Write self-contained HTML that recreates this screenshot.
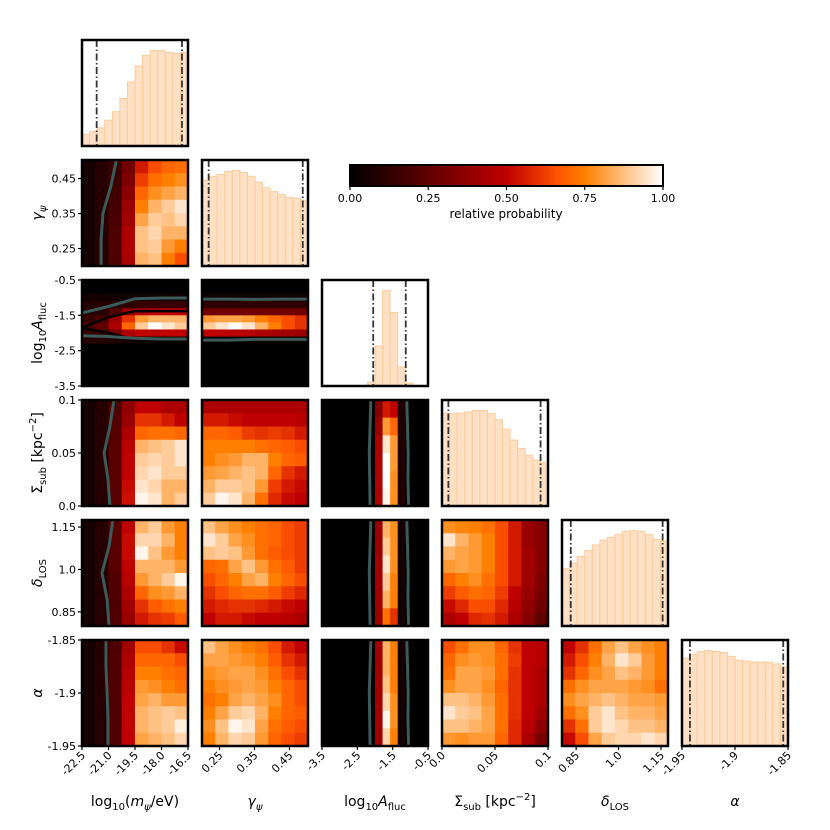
<!DOCTYPE html>
<html><head><meta charset="utf-8"><style>
html,body{margin:0;padding:0;background:#fff;}
svg{display:block;font-family:"DejaVu Sans","Liberation Sans",sans-serif;}
</style></head><body>
<svg id="fig" width="830" height="830" viewBox="0 0 830 830" xmlns="http://www.w3.org/2000/svg">
<defs>
<linearGradient id="cmap" x1="0" x2="1" y1="0" y2="0">
<stop offset="0" stop-color="#000"/><stop offset="0.3333" stop-color="#800000"/><stop offset="0.5" stop-color="#bf0000"/><stop offset="0.6667" stop-color="#ff5500"/><stop offset="0.75" stop-color="#ff8000"/><stop offset="1" stop-color="#fff"/>
</linearGradient>
</defs>
<g id="layer"></g>
<g>
<rect x="350" y="165" width="313" height="21" fill="url(#cmap)" stroke="#000" stroke-width="2"/>
</g>
</svg>
<script>
// ---- data ----
const paramLo = [-22.5, 0.2, -3.5, 0, 0.8, -1.95];
const paramHi = [-16.5, 0.503, -0.5, 0.1, 1.175, -1.85];
const yTickVals = [[], [0.45,0.35,0.25], [-0.5,-1.5,-2.5,-3.5], [0.1,0.05,0.0], [1.15,1.0,0.85], [-1.85,-1.9,-1.95]];
const yTickLabels = [[], ["0.45","0.35","0.25"], ["-0.5","-1.5","-2.5","-3.5"], ["0.1","0.05","0.0"], ["1.15","1.0","0.85"], ["-1.85","-1.9","-1.95"]];
const xTickVals = [[-22.5,-21,-19.5,-18,-16.5],[0.25,0.35,0.45],[-3.5,-2.5,-1.5,-0.5],[0.0,0.05,0.1],[0.85,1.0,1.15],[-1.95,-1.9,-1.85]];
const xTickLabels = [["-22.5","-21.0","-19.5","-18.0","-16.5"],["0.25","0.35","0.45"],["-3.5","-2.5","-1.5","-0.5"],["0.0","0.05","0.1"],["0.85","1.0","1.15"],["-1.95","-1.9","-1.85"]];
const cbarTicks = [0, 0.25, 0.5, 0.75, 1.0];
const cbarLabels = ["0.00","0.25","0.50","0.75","1.00"];

const hist0 = [.12,.15,.19,.27,.36,.50,.67,.84,.95,1,1,.98,.97,.98];
const hist1 = [.90,.94,.96,.99,1,.98,.94,.88,.82,.78,.75,.72,.71,.69];
const hist2 = [0,0,0,0,0,0,.04,.42,1,.77,.2,.03,0,0];
const hist3 = [.975,.968,.975,.986,1,1,.968,.904,.805,.691,.603,.532,.479,.454];
const hist4 = [.60,.66,.73,.79,.85,.90,.93,.96,.99,1,.99,.96,.91,.89];
const hist5 = [.92,.96,.99,1,.99,.98,.94,.90,.89,.88,.88,.88,.86,.83];
const hists = [hist0,hist1,hist2,hist3,hist4,hist5];
const quantLo = [-21.67, 0.219, -2.05, 0.006, 0.831, -1.9425];
const quantHi = [-16.84, 0.488, -1.13, 0.093, 1.156, -1.8545];

const grid_1_0 = [
[.06,.1,.15,.3,.55,.65,.70,.72],[.06,.1,.16,.33,.62,.72,.75,.78],[.06,.1,.17,.36,.70,.78,.82,.85],[.06,.1,.18,.4,.75,.85,.90,.95],
[.06,.1,.19,.42,.82,.90,.88,.92],[.06,.1,.2,.45,.88,.92,.85,.85],[.06,.1,.2,.45,.88,.90,.80,.75],[.06,.1,.2,.44,.85,.88,.75,.65]];
const grid_2_0 = [
[0,0,0,0,0,0,0,0],[0,0,0,0,0,0,0,0],[.05,.05,.05,.05,.05,.05,.05,.05],[.1,.1,.1,.12,.15,.15,.15,.15],
[.1,.1,.2,.4,.45,.5,.5,.5],[.15,.2,.4,.6,.8,.85,.85,.85],[.2,.25,.45,.7,.9,1,.95,.9],[.15,.15,.3,.45,.5,.5,.5,.5],
[.1,.1,.08,.05,.03,.03,.03,.03],[0,0,0,0,0,0,0,0],[0,0,0,0,0,0,0,0],[0,0,0,0,0,0,0,0],[0,0,0,0,0,0,0,0],[0,0,0,0,0,0,0,0],[0,0,0,0,0,0,0,0]];
const grid_2_1 = [
[0,0,0,0,0,0,0,0],[0,0,0,0,0,0,0,0],[.05,.05,.05,.05,.05,.05,.05,.05],[.12,.12,.12,.12,.12,.12,.12,.12],
[.3,.3,.3,.3,.3,.3,.3,.3],[.8,.82,.82,.8,.75,.7,.65,.6],[.9,.95,1,.95,.85,.75,.65,.6],[.5,.5,.48,.47,.45,.43,.42,.4],
[.02,.02,.02,.02,.02,.02,.02,.02],[0,0,0,0,0,0,0,0],[0,0,0,0,0,0,0,0],[0,0,0,0,0,0,0,0],[0,0,0,0,0,0,0,0],[0,0,0,0,0,0,0,0],[0,0,0,0,0,0,0,0]];
const grid_3_0 = [
[.06,.1,.2,.38,.5,.5,.45,.45],[.06,.1,.21,.4,.6,.6,.55,.5],[.06,.1,.22,.45,.7,.72,.72,.7],[.06,.1,.23,.48,.85,.88,.9,.95],
[.06,.1,.23,.5,.9,.92,.9,.95],[.06,.1,.23,.5,.92,.95,.9,.9],[.06,.1,.23,.52,.95,.92,.85,.85],[.06,.1,.23,.53,.98,.95,.85,.9]];
const grid_3_1 = [
[.45,.45,.45,.45,.45,.45,.45,.45],[.55,.55,.52,.5,.5,.5,.5,.48],[.7,.7,.68,.62,.6,.62,.6,.55],[.75,.75,.75,.75,.72,.7,.68,.65],
[.75,.78,.8,.85,.85,.75,.7,.68],[.8,.82,.85,.88,.85,.7,.6,.55],[.85,.9,.9,.88,.8,.62,.55,.52],[.9,.98,.95,.85,.72,.58,.52,.5]];
const grid_3_2 = [
[0,0,0,0,0,0,.02,.35,.55,.5,.08,0,0,0],[0,0,0,0,0,0,.02,.4,.8,.7,.08,0,0,0],[0,0,0,0,0,0,.02,.45,.95,.8,.08,0,0,0],
[0,0,0,0,0,0,.02,.45,1,.8,.08,0,0,0],[0,0,0,0,0,0,.02,.45,1,.78,.08,0,0,0],[0,0,0,0,0,0,.02,.45,.98,.78,.08,0,0,0]];
const grid_4_0 = [
[.06,.1,.23,.5,.85,.9,.8,.75],[.06,.1,.23,.52,.92,.92,.85,.75],[.06,.1,.23,.52,.98,.88,.8,.75],[.06,.1,.23,.5,.85,.85,.85,.8],
[.06,.1,.21,.48,.8,.85,.9,.98],[.06,.1,.21,.45,.7,.78,.8,.85],[.06,.1,.2,.42,.6,.68,.72,.75],[.06,.1,.2,.4,.55,.6,.62,.68]];
const grid_4_1 = [
[.88,.82,.78,.75,.72,.7,.65,.62],[.95,.9,.82,.78,.72,.7,.65,.62],[.88,.9,.88,.8,.72,.68,.65,.62],[.7,.72,.82,.88,.8,.72,.68,.62],
[.65,.7,.75,.82,.85,.75,.7,.65],[.6,.65,.7,.72,.72,.68,.62,.58],[.55,.58,.6,.6,.58,.55,.52,.5],[.5,.55,.55,.52,.5,.5,.48,.45]];
const grid_4_2 = [
[0,0,0,0,0,0,.02,.4,.85,.78,.05,0,0,0],[0,0,0,0,0,0,.02,.4,.9,.78,.05,0,0,0],[0,0,0,0,0,0,.02,.42,.95,.78,.05,0,0,0],
[0,0,0,0,0,0,.02,.42,.9,.75,.05,0,0,0],[0,0,0,0,0,0,.02,.42,.85,.75,.05,0,0,0],[0,0,0,0,0,0,.02,.4,.72,.6,.05,0,0,0]];
const grid_4_3 = [
[.78,.76,.75,.72,.65,.55,.4,.35],[.95,.85,.8,.75,.65,.55,.4,.35],[.85,.82,.8,.75,.65,.55,.42,.35],[.8,.82,.8,.75,.65,.55,.42,.35],
[.7,.75,.78,.72,.65,.55,.42,.33],[.62,.68,.72,.7,.62,.5,.4,.32],[.52,.58,.65,.65,.58,.48,.38,.3],[.45,.5,.58,.6,.55,.45,.35,.25]];
const grid_5_0 = [
[.06,.1,.2,.42,.65,.65,.6,.52],[.06,.1,.21,.45,.7,.7,.7,.65],[.06,.1,.21,.47,.75,.75,.72,.7],[.06,.1,.21,.48,.8,.78,.75,.72],
[.06,.1,.21,.5,.82,.85,.8,.8],[.06,.1,.21,.5,.85,.88,.9,.88],[.06,.1,.21,.5,.85,.88,.9,.97],[.06,.1,.21,.5,.82,.85,.88,.92]];
const grid_5_1 = [
[.88,.82,.78,.75,.72,.65,.55,.5],[.82,.82,.8,.78,.75,.68,.6,.55],[.78,.8,.82,.82,.78,.72,.65,.6],[.75,.78,.8,.82,.8,.75,.7,.65],
[.72,.75,.82,.85,.82,.78,.7,.65],[.75,.82,.9,.92,.85,.75,.7,.68],[.78,.88,.98,.95,.82,.72,.68,.65],[.75,.85,.92,.9,.8,.7,.65,.62]];
const grid_5_2 = [
[0,0,0,0,0,0,.02,.42,.85,.75,.05,0,0,0],[0,0,0,0,0,0,.02,.42,.85,.75,.05,0,0,0],[0,0,0,0,0,0,.02,.42,.88,.75,.05,0,0,0],
[0,0,0,0,0,0,.02,.42,.92,.78,.05,0,0,0],[0,0,0,0,0,0,.02,.42,.98,.78,.05,0,0,0],[0,0,0,0,0,0,.02,.42,.92,.75,.05,0,0,0]];
const grid_5_3 = [
[.65,.72,.78,.78,.7,.6,.5,.48],[.7,.78,.8,.78,.72,.62,.5,.48],[.72,.82,.82,.8,.72,.6,.5,.45],[.78,.82,.82,.78,.7,.6,.5,.45],
[.88,.88,.85,.8,.72,.6,.5,.45],[.95,.9,.88,.82,.72,.6,.5,.42],[.88,.88,.85,.82,.72,.58,.48,.38],[.8,.78,.8,.8,.7,.58,.45,.32]];
const grid_5_4 = [
[.5,.6,.72,.82,.88,.82,.78,.75],[.55,.65,.75,.85,.95,.9,.8,.75],[.6,.7,.78,.82,.88,.85,.8,.75],[.72,.78,.82,.82,.82,.8,.78,.72],
[.78,.82,.85,.88,.85,.82,.82,.8],[.72,.78,.9,.95,.88,.85,.85,.82],[.6,.72,.9,.95,.92,.88,.88,.85],[.52,.65,.82,.9,.92,.92,.95,.92]];
const grids = {"1_0":grid_1_0,"2_0":grid_2_0,"2_1":grid_2_1,"3_0":grid_3_0,"3_1":grid_3_1,"3_2":grid_3_2,
"4_0":grid_4_0,"4_1":grid_4_1,"4_2":grid_4_2,"4_3":grid_4_3,"5_0":grid_5_0,"5_1":grid_5_1,"5_2":grid_5_2,"5_3":grid_5_3,"5_4":grid_5_4};

const contourFrac = [0, 0.25, 0.5, 0.75, 1];
const mContour_1 = [-20.55,-20.87,-21.31,-21.42,-21.42];
const mContour_3 = [-20.69,-20.92,-21.25,-21.03,-20.92];
const mContour_4 = [-20.75,-20.97,-21.37,-21.08,-20.97];
const mContour_5 = [-21.14,-21.14,-21.08,-21.03,-21.03];
const aContourLo = [-2.12,-2.14,-2.16,-2.15,-2.14];
const aContourHi = [-1.10,-1.08,-1.06,-1.07,-1.05];
const aUpper_2_0 = [-1.43,-1.25,-1.03,-1.01,-1.01];
const aLower_2_0 = [-2.08,-2.10,-2.15,-2.17,-2.17];
const aUpper_2_1 = [-1.04,-1.04,-1.05,-1.04,-1.04];
const aLower_2_1 = [-2.20,-2.20,-2.18,-2.18,-2.18];
const blackUp_2_0 = [-1.85,-1.55,-1.38,-1.38,-1.38];
const blackDn_2_0 = [-1.85,-2.0,-2.2,-2.2,-2.2];

// ---- rendering ----
const NS = "http://www.w3.org/2000/svg";
const L = document.getElementById('layer');
const PW = 106;
const left = c => 82 + 120*c;
const top_ = r => 40 + 120*r;
const xs = (c,v) => left(c) + (v - paramLo[c])/(paramHi[c]-paramLo[c])*PW;
const ys = (r,v) => top_(r) + PW - (v - paramLo[r])/(paramHi[r]-paramLo[r])*PW;
function el(tag, attrs, parent){const e=document.createElementNS(NS,tag);for(const k in attrs)e.setAttribute(k,attrs[k]);(parent||L).appendChild(e);return e;}
function cmap(v){v=Math.max(0,Math.min(1,v));const r=Math.min(1,1.5*v),g=Math.max(0,2*v-1),b=Math.max(0,4*v-3);return `rgb(${Math.round(r*255)},${Math.round(g*255)},${Math.round(b*255)})`;}

const defs = document.querySelector('defs');
for(let r=0;r<6;r++)for(let c=0;c<=r;c++){
  const cp=el('clipPath',{id:`cp${r}_${c}`},defs);
  el('rect',{x:left(c),y:top_(r),width:PW,height:PW},cp);
}

for(let r=0;r<6;r++){
  for(let c=0;c<=r;c++){
    const g = el('g',{'clip-path':`url(#cp${r}_${c})`});
    
    
    if(r===c){
      const h = hists[c]; const n=h.length; const bw=PW/n;
      for(let i=0;i<n;i++){
        if(h[i]<=0) continue;
        const bh = h[i]*0.9*PW;
        const b = el('rect',{x:left(c)+i*bw,y:top_(r)+PW-bh,width:bw,height:bh,fill:'#fee0c5',stroke:'#fccc9c','stroke-width':1},g);
        
        
      }
      for(const q of [quantLo[c],quantHi[c]]){
        const ln = el('line',{x1:xs(c,q),x2:xs(c,q),y1:top_(r),y2:top_(r)+PW,stroke:'#333','stroke-width':1.8,'stroke-dasharray':'7,2.5,1.5,2.5'},g);
        
        
      }
    } else {
      const G = grids[`${r}_${c}`]; const nr=G.length, nc=G[0].length;
      const cw=PW/nc, ch=PW/nr;
      for(let i=0;i<nr;i++)for(let j=0;j<nc;j++){
        const cell = el('rect',{x:left(c)+j*cw,y:top_(r)+i*ch,width:cw+0.6,height:ch+0.6,fill:cmap(G[i][j])},g);
        
        
      }
      const vline = (arr,col,row) => contourFrac.map((f,k)=>`${k?'L':'M'}${xs(col,arr[k]).toFixed(1)},${(top_(row)+f*PW).toFixed(1)}`).join(' ');
      const hline = (arr,col,row) => contourFrac.map((f,k)=>`${k?'L':'M'}${(left(col)+f*PW).toFixed(1)},${ys(row,arr[k]).toFixed(1)}`).join(' ');
      const addPath=(d,col,w)=>{const p=el('path',{d:d,fill:'none',stroke:col,'stroke-width':w,'stroke-linejoin':'round'},g);};
      if(c===0 && r!==2){
        const m = {1:mContour_1,3:mContour_3,4:mContour_4,5:mContour_5}[r];
        addPath(vline(m,0,r),'#3b5a5a',3);
      }
      if(c===2){
        addPath(vline(aContourLo,2,r),'#3b5a5a',3);
        addPath(vline(aContourHi,2,r),'#3b5a5a',3);
      }
      if(r===2 && c===0){
        addPath(hline(blackUp_2_0,0,2),'#000',2.5);
        addPath(hline(blackDn_2_0,0,2),'#000',2.5);
        addPath(hline(aUpper_2_0,0,2),'#3b5a5a',3);
        addPath(hline(aLower_2_0,0,2),'#3b5a5a',3);
      }
      if(r===2 && c===1){
        addPath(hline(aUpper_2_1,1,2),'#3b5a5a',3);
        addPath(hline(aLower_2_1,1,2),'#3b5a5a',3);
      }
    }
    const fr = el('rect',{x:left(c),y:top_(r),width:PW,height:PW,fill:'none',stroke:'#000','stroke-width':2.5});
    
    
  }
}

for(let r=1;r<6;r++){
  yTickVals[r].forEach((v,k)=>{
    const y=ys(r,v);
    el('line',{x1:left(0)-4,x2:left(0),y1:y,y2:y,stroke:'#000','stroke-width':1.2});
    const t=el('text',{x:left(0)-6,y:y+4,'font-size':11,'text-anchor':'end',fill:'#000'});
    t.textContent=yTickLabels[r][k];
    
    
  });
}
for(let c=0;c<6;c++){
  xTickVals[c].forEach((v,k)=>{
    const x=xs(c,v), y=top_(5)+PW;
    el('line',{x1:x,x2:x,y1:y,y2:y+4,stroke:'#000','stroke-width':1.2});
    const t=el('text',{x:x+4,y:y+10,'font-size':11,'text-anchor':'end',fill:'#000',transform:`rotate(-45 ${x+4} ${y+10})`});
    t.textContent=xTickLabels[c][k];
    
    
  });
}
cbarTicks.forEach((v,k)=>{
  const x=350+v*313;
  el('line',{x1:x,x2:x,y1:186,y2:190,stroke:'#000','stroke-width':1.2});
  const t=el('text',{x:x,y:202,'font-size':11,'text-anchor':'middle',fill:'#000'});
  t.textContent=cbarLabels[k];
  
  
});
</script>
<script>
const S = document.getElementById('fig');
S.insertAdjacentHTML('beforeend', `
<text x="506" y="218" font-size="12" text-anchor="middle">relative probability</text>
<g font-size="14" fill="#000">
<text x="135" y="806" text-anchor="middle">log<tspan font-size="10" dy="4">10</tspan><tspan dy="-4">(</tspan><tspan font-style="italic">m</tspan><tspan font-size="10" dy="4" font-style="italic">ψ</tspan><tspan dy="-4">/eV)</tspan></text>
<text x="255" y="806" text-anchor="middle"><tspan font-style="italic">γ</tspan><tspan font-size="10" dy="4" font-style="italic">ψ</tspan></text>
<text x="375" y="806" text-anchor="middle">log<tspan font-size="10" dy="4">10</tspan><tspan dy="-4" font-style="italic">A</tspan><tspan font-size="10" dy="4">fluc</tspan></text>
<text x="495" y="806" text-anchor="middle">Σ<tspan font-size="10" dy="4">sub</tspan><tspan dy="-4"> [kpc</tspan><tspan font-size="10" dy="-6">−2</tspan><tspan dy="6">]</tspan></text>
<text x="615" y="806" text-anchor="middle"><tspan font-style="italic">δ</tspan><tspan font-size="10" dy="4">LOS</tspan></text>
<text x="735" y="806" text-anchor="middle" font-style="italic">α</text>
<text transform="translate(42 213) rotate(-90)" text-anchor="middle"><tspan font-style="italic">γ</tspan><tspan font-size="10" dy="4" font-style="italic">ψ</tspan></text>
<text transform="translate(42 333) rotate(-90)" text-anchor="middle">log<tspan font-size="10" dy="4">10</tspan><tspan dy="-4" font-style="italic">A</tspan><tspan font-size="10" dy="4">fluc</tspan></text>
<text transform="translate(42 453) rotate(-90)" text-anchor="middle">Σ<tspan font-size="10" dy="4">sub</tspan><tspan dy="-4"> [kpc</tspan><tspan font-size="10" dy="-6">−2</tspan><tspan dy="6">]</tspan></text>
<text transform="translate(42 573) rotate(-90)" text-anchor="middle"><tspan font-style="italic">δ</tspan><tspan font-size="10" dy="4">LOS</tspan></text>
<text transform="translate(42 693) rotate(-90)" text-anchor="middle" font-style="italic">α</text>
</g>`);
</script>
</body></html>
